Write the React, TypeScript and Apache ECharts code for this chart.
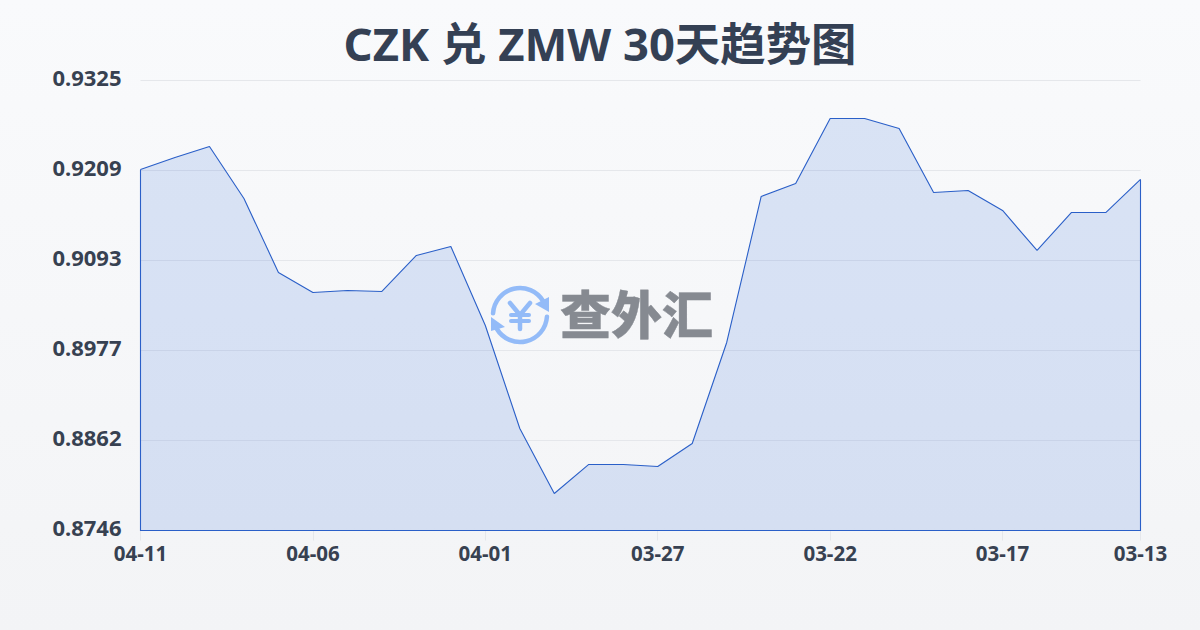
import React, { useEffect, useRef } from "react";
import * as echarts from "echarts";

const categories = ["04-11","04-10","04-09","04-08","04-07","04-06","04-05","04-04","04-03","04-02","04-01","03-31","03-30","03-29","03-28","03-27","03-26","03-25","03-24","03-23","03-22","03-21","03-20","03-19","03-18","03-17","03-16","03-15","03-14","03-13"];
const rates = [0.92105,0.9226,0.92401,0.91732,0.9078,0.90523,0.90548,0.90536,0.90999,0.91115,0.90098,0.88773,0.87936,0.8831,0.8831,0.88284,0.8858,0.89879,0.91758,0.91925,0.92762,0.92762,0.92633,0.91809,0.91835,0.91578,0.91063,0.91552,0.91552,0.91977];
const yTickLabels = ["0.8746","0.8862","0.8977","0.9093","0.9209","0.9325"];
const yMin = 0.8746;
const yMax = 0.9325;
const yStep = (yMax - yMin) / 5;
const titleText = "CZK 兑 ZMW 30天趋势图";
const watermarkText = "查外汇";

const FONT = '"Noto Sans", "Noto Sans CJK SC", sans-serif';
const LINE = "#2a5fc8";
const ICON = "#93bbf8";

export default function App() {
  const ref = useRef<HTMLDivElement>(null);
  useEffect(() => {
    document.body.style.margin = "0";
    const chart = echarts.init(ref.current!, null, { renderer: "svg" });
    const showTick = (i: number) => i % 5 === 0 || i === categories.length - 1;
    chart.setOption({
      animation: false,
      backgroundColor: {
        type: "linear", x: 0, y: 0, x2: 0, y2: 1,
        colorStops: [{ offset: 0, color: "#f9fafc" }, { offset: 1, color: "#f3f4f6" }],
      },
      title: {
        text: titleText, left: "center", top: 15,
        textStyle: { fontFamily: FONT, fontSize: 45.4, fontWeight: "bold", color: "#344054" },
      },
      grid: { left: 140.5, top: 80.5, width: 1000, height: 450 },
      xAxis: {
        type: "category", data: categories, boundaryGap: false,
        axisLine: { show: false },
        axisTick: { show: true, length: 10, interval: (i: number) => showTick(i), lineStyle: { color: "#e5e7eb" } },
        axisLabel: { interval: (i: number) => showTick(i), margin: 12, fontFamily: FONT, fontSize: 20.5, fontWeight: "bold", color: "#374151" },
        splitLine: { show: false },
      },
      yAxis: {
        type: "value", min: yMin, max: yMax, interval: yStep,
        axisLine: { show: false }, axisTick: { show: false },
        axisLabel: {
          margin: 19, fontFamily: FONT, fontSize: 22, fontWeight: "bold", color: "#374151",
          verticalAlign: "bottom", lineHeight: 8,
          formatter: (v: number) => yTickLabels[Math.round((v - yMin) / yStep)] ?? v.toFixed(4),
        },
        splitLine: { lineStyle: { color: "#e5e7eb", width: 1 } },
      },
      graphic: [
        {
          type: "group", silent: true, z: 50,
          children: [
            { type: "arc", shape: { cx: 520, cy: 315, r: 27, startAngle: Math.PI * 1.02, endAngle: Math.PI * 1.83 }, style: { stroke: ICON, lineWidth: 4.5, fill: "none", lineCap: "round" } },
            { type: "arc", shape: { cx: 520, cy: 315, r: 27, startAngle: Math.PI * 0.02, endAngle: Math.PI * 0.83 }, style: { stroke: ICON, lineWidth: 4.5, fill: "none", lineCap: "round" } },
            { type: "polygon", shape: { points: [[549, 297], [549, 312], [535, 304]] }, style: { fill: ICON } },
            { type: "polygon", shape: { points: [[491, 317], [491, 331], [505, 327]] }, style: { fill: ICON } },
            { type: "polyline", shape: { points: [[510, 303], [520, 315], [530, 303]] }, style: { stroke: ICON, lineWidth: 4.5, fill: "none", lineCap: "round", lineJoin: "round" } },
            { type: "line", shape: { x1: 520, y1: 315, x2: 520, y2: 329 }, style: { stroke: ICON, lineWidth: 4.5, lineCap: "round" } },
            { type: "line", shape: { x1: 511, y1: 315, x2: 529, y2: 315 }, style: { stroke: ICON, lineWidth: 4, lineCap: "round" } },
            { type: "line", shape: { x1: 511, y1: 321, x2: 529, y2: 321 }, style: { stroke: ICON, lineWidth: 4, lineCap: "round" } },
            { type: "text", x: 560, y: 312, style: { text: watermarkText, fontFamily: '"Noto Sans CJK SC", sans-serif', fontSize: 51, fontWeight: 900, fill: "#868a91", stroke: "#868a91", lineWidth: 0.4, textVerticalAlign: "middle" } },
          ],
        },
      ],
      series: [
        {
          type: "line", data: rates, symbol: "none", smooth: false,
          lineStyle: { color: LINE, width: 1.1 },
          areaStyle: { color: "#2862d8", opacity: 0.15, origin: "start" },
          z: 3,
        },
        {
          type: "custom", data: rates, silent: true, z: 4,
          renderItem: (params: any, api: any) => {
            if (params.dataIndex !== 0) return null;
            const last = rates.length - 1;
            return {
              type: "polyline",
              shape: {
                points: [
                  api.coord([0, rates[0]]),
                  api.coord([0, yMin]),
                  api.coord([last, yMin]),
                  api.coord([last, rates[last]]),
                ],
              },
              style: { stroke: LINE, lineWidth: 1.1, fill: "none" },
            };
          },
        },
      ],
    });
    return () => chart.dispose();
  }, []);
  return <div ref={ref} style={{ width: 1200, height: 630 }} />;
}
